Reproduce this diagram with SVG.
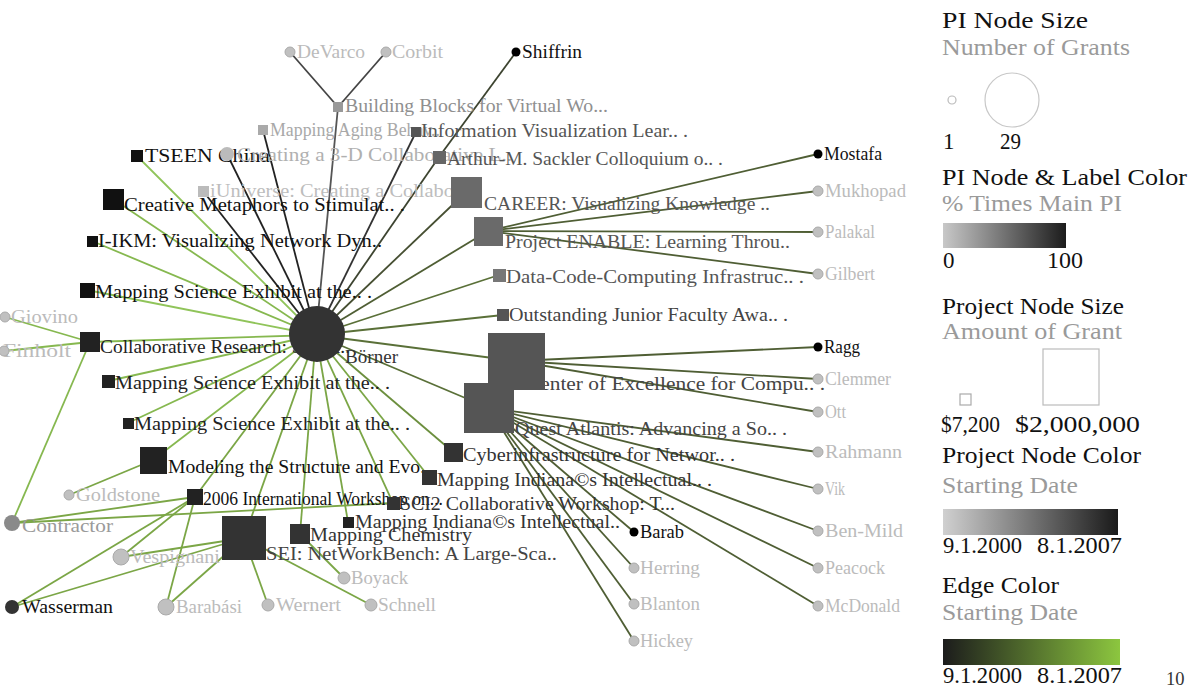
<svg xmlns="http://www.w3.org/2000/svg" width="1194" height="689" viewBox="0 0 1194 689">
<defs>
<linearGradient id="gPI" x1="0" x2="1" y1="0" y2="0"><stop offset="0" stop-color="#c8c8c8"/><stop offset="1" stop-color="#1c1c1c"/></linearGradient>
<linearGradient id="gPR" x1="0" x2="1" y1="0" y2="0"><stop offset="0" stop-color="#d0d0d0"/><stop offset="1" stop-color="#1a1a1a"/></linearGradient>
<linearGradient id="gED" x1="0" x2="1" y1="0" y2="0"><stop offset="0" stop-color="#1c1c1c"/><stop offset="1" stop-color="#8cc63f"/></linearGradient>
</defs>
<style>
text{font-family:"Liberation Serif","Times New Roman",serif;font-size:18.5px}
.lg{font-size:23px;fill:#111}
.ls{font-size:23px;fill:#9a9a9a}
.n{fill:#bbb}
.w{fill:#111}
.d{fill:#333}
.m{fill:#555}
.l{fill:#a8a8a8}
.pl{fill:#c0c0c0;stroke:#aaa;stroke-width:1}
.pk{fill:#000}
#edges line{stroke-width:1.8;fill:none}
.k1{stroke:#222}.k2{stroke:#333}.k4{stroke:#444}.k5{stroke:#555}
.o1{stroke:#3d4430}.o2{stroke:#464f32}.o3{stroke:#4f5e34}.o4{stroke:#5a7038}
.g3{stroke:#6c8f3e}.g4{stroke:#7ba646}.g5{stroke:#86b84f}.g6{stroke:#90c45a}
</style>
<rect width="1194" height="689" fill="#fff"/>
<g id="edges">
<line x1="290" y1="52" x2="338" y2="107" class="k4"/>
<line x1="386" y1="52" x2="338" y2="107" class="k4"/>
<line x1="338" y1="107" x2="316" y2="335" class="k5"/>
<line x1="263" y1="130" x2="316" y2="335" class="k1"/>
<line x1="416" y1="132" x2="316" y2="335" class="k2"/>
<line x1="227" y1="154" x2="316" y2="335" class="k1"/>
<line x1="203" y1="191" x2="316" y2="335" class="k1"/>
<line x1="516" y1="52" x2="439" y2="157" class="o1"/>
<line x1="439" y1="157" x2="316" y2="335" class="o1"/>
<line x1="466" y1="192" x2="316" y2="335" class="o2"/>
<line x1="488" y1="231" x2="316" y2="335" class="o3"/>
<line x1="488" y1="231" x2="818" y2="154" class="o3"/>
<line x1="488" y1="231" x2="818" y2="191" class="o3"/>
<line x1="488" y1="231" x2="818" y2="232" class="o3"/>
<line x1="488" y1="231" x2="818" y2="274" class="o3"/>
<line x1="499" y1="275" x2="316" y2="335" class="o4"/>
<line x1="503" y1="315" x2="316" y2="335" class="o4"/>
<line x1="516" y1="361" x2="316" y2="335" class="o4"/>
<line x1="516" y1="361" x2="818" y2="347" class="o3"/>
<line x1="516" y1="361" x2="818" y2="379" class="o3"/>
<line x1="516" y1="361" x2="818" y2="412" class="o3"/>
<line x1="489" y1="408" x2="316" y2="335" class="o4"/>
<line x1="489" y1="408" x2="818" y2="452" class="o3"/>
<line x1="489" y1="408" x2="818" y2="489" class="o3"/>
<line x1="489" y1="408" x2="818" y2="531" class="o3"/>
<line x1="489" y1="408" x2="818" y2="568" class="o3"/>
<line x1="489" y1="408" x2="818" y2="606" class="o3"/>
<line x1="489" y1="408" x2="634" y2="532" class="o3"/>
<line x1="489" y1="408" x2="634" y2="568" class="o3"/>
<line x1="489" y1="408" x2="634" y2="604" class="o3"/>
<line x1="489" y1="408" x2="634" y2="641" class="o3"/>
<line x1="453" y1="452" x2="316" y2="335" class="g3"/>
<line x1="429" y1="477" x2="316" y2="335" class="g4"/>
<line x1="393" y1="503" x2="316" y2="335" class="g4"/>
<line x1="348" y1="522" x2="316" y2="335" class="g4"/>
<line x1="300" y1="534" x2="316" y2="335" class="g4"/>
<line x1="244" y1="538" x2="316" y2="335" class="g4"/>
<line x1="195" y1="497" x2="316" y2="335" class="g4"/>
<line x1="153" y1="460" x2="316" y2="335" class="g5"/>
<line x1="128" y1="423" x2="316" y2="335" class="g5"/>
<line x1="108" y1="381" x2="316" y2="335" class="g5"/>
<line x1="90" y1="342" x2="316" y2="335" class="g5"/>
<line x1="87" y1="290" x2="316" y2="335" class="g6"/>
<line x1="92" y1="241" x2="316" y2="335" class="g5"/>
<line x1="113" y1="199" x2="316" y2="335" class="g5"/>
<line x1="137" y1="156" x2="316" y2="335" class="g6"/>
<line x1="90" y1="342" x2="5" y2="317" class="g5"/>
<line x1="90" y1="342" x2="4" y2="351" class="g5"/>
<line x1="90" y1="342" x2="12" y2="523" class="g5"/>
<line x1="153" y1="460" x2="69" y2="495" class="g4"/>
<line x1="195" y1="497" x2="12" y2="523" class="g4"/>
<line x1="195" y1="497" x2="121" y2="557" class="g4"/>
<line x1="195" y1="497" x2="12" y2="607" class="g4"/>
<line x1="195" y1="497" x2="166" y2="607" class="g4"/>
<line x1="393" y1="503" x2="12" y2="523" class="g4"/>
<line x1="244" y1="538" x2="121" y2="557" class="g4"/>
<line x1="244" y1="538" x2="12" y2="607" class="g4"/>
<line x1="244" y1="538" x2="166" y2="607" class="g4"/>
<line x1="244" y1="538" x2="268" y2="605" class="g4"/>
<line x1="244" y1="538" x2="371" y2="605" class="g4"/>
<line x1="300" y1="534" x2="344" y2="578" class="g4"/>
</g>
<g id="pi-devarco"><circle cx="290" cy="52" r="5" class="pl"/><text x="297" y="58" class="n" textLength="68" lengthAdjust="spacingAndGlyphs">DeVarco</text></g>
<g id="pi-corbit"><circle cx="386" cy="52" r="5" class="pl"/><text x="392" y="58" class="n" textLength="51" lengthAdjust="spacingAndGlyphs">Corbit</text></g>
<g id="pi-shiffrin"><circle cx="516" cy="52" r="4.5" class="pk"/><text x="522" y="58" class="w" textLength="60" lengthAdjust="spacingAndGlyphs">Shiffrin</text></g>
<g id="pi-mostafa"><circle cx="818" cy="154" r="4.5" class="pk"/><text x="824" y="160" class="w" textLength="58" lengthAdjust="spacingAndGlyphs">Mostafa</text></g>
<g id="pi-mukhopad"><circle cx="818" cy="191" r="5" class="pl"/><text x="825" y="197" class="n" textLength="81" lengthAdjust="spacingAndGlyphs">Mukhopad</text></g>
<g id="pi-palakal"><circle cx="818" cy="232" r="5" class="pl"/><text x="825" y="238" class="n" textLength="50" lengthAdjust="spacingAndGlyphs">Palakal</text></g>
<g id="pi-gilbert"><circle cx="818" cy="274" r="5" class="pl"/><text x="825" y="280" class="n" textLength="50" lengthAdjust="spacingAndGlyphs">Gilbert</text></g>
<g id="pi-ragg"><circle cx="818" cy="347" r="4.5" class="pk"/><text x="824" y="353" class="w" textLength="36" lengthAdjust="spacingAndGlyphs">Ragg</text></g>
<g id="pi-clemmer"><circle cx="818" cy="379" r="5" class="pl"/><text x="825" y="385" class="n" textLength="66" lengthAdjust="spacingAndGlyphs">Clemmer</text></g>
<g id="pi-ott"><circle cx="818" cy="412" r="5" class="pl"/><text x="825" y="418" class="n" textLength="21" lengthAdjust="spacingAndGlyphs">Ott</text></g>
<g id="pi-rahmann"><circle cx="818" cy="452" r="5" class="pl"/><text x="825" y="458" class="n" textLength="77" lengthAdjust="spacingAndGlyphs">Rahmann</text></g>
<g id="pi-vik"><circle cx="818" cy="489" r="5" class="pl"/><text x="825" y="495" class="n" textLength="20" lengthAdjust="spacingAndGlyphs">Vik</text></g>
<g id="pi-benmild"><circle cx="818" cy="531" r="5" class="pl"/><text x="825" y="537" class="n" textLength="78" lengthAdjust="spacingAndGlyphs">Ben-Mild</text></g>
<g id="pi-peacock"><circle cx="818" cy="568" r="5" class="pl"/><text x="825" y="574" class="n" textLength="60" lengthAdjust="spacingAndGlyphs">Peacock</text></g>
<g id="pi-mcdonald"><circle cx="818" cy="606" r="5" class="pl"/><text x="825" y="612" class="n" textLength="75" lengthAdjust="spacingAndGlyphs">McDonald</text></g>
<g id="pi-barab"><circle cx="634" cy="532" r="4.5" class="pk"/><text x="640" y="538" class="w" textLength="44" lengthAdjust="spacingAndGlyphs">Barab</text></g>
<g id="pi-herring"><circle cx="634" cy="568" r="5" class="pl"/><text x="640" y="574" class="n" textLength="60" lengthAdjust="spacingAndGlyphs">Herring</text></g>
<g id="pi-blanton"><circle cx="634" cy="604" r="5" class="pl"/><text x="640" y="610" class="n" textLength="60" lengthAdjust="spacingAndGlyphs">Blanton</text></g>
<g id="pi-hickey"><circle cx="634" cy="641" r="5" class="pl"/><text x="640" y="647" class="n" textLength="53" lengthAdjust="spacingAndGlyphs">Hickey</text></g>
<g id="pi-giovino"><circle cx="5" cy="317" r="5" class="pl"/><text x="11" y="323" class="n" textLength="67" lengthAdjust="spacingAndGlyphs">Giovino</text></g>
<g id="pi-finholt"><text x="3" y="357" class="n" textLength="68" lengthAdjust="spacingAndGlyphs">Finholt</text><circle cx="4" cy="351" r="5" class="pl"/></g>
<g id="pi-contractor"><circle cx="12" cy="523" r="8" fill="#8a8a8a"/><text x="22" y="532" fill="#9a9a9a" textLength="91" lengthAdjust="spacingAndGlyphs">Contractor</text></g>
<g id="pi-goldstone"><circle cx="69" cy="495" r="5" class="pl"/><text x="76" y="501" class="n" textLength="84" lengthAdjust="spacingAndGlyphs">Goldstone</text></g>
<g id="pi-vespignani"><text x="130" y="563" class="n" textLength="90" lengthAdjust="spacingAndGlyphs">Vespignani</text><circle cx="121" cy="557" r="8" class="pl"/></g>
<g id="pi-wasserman"><circle cx="12" cy="607" r="7" fill="#333"/><text x="22" y="613" class="w" textLength="91" lengthAdjust="spacingAndGlyphs">Wasserman</text></g>
<g id="pi-barabasi"><circle cx="166" cy="607" r="8" class="pl"/><text x="176" y="613" class="n" textLength="66" lengthAdjust="spacingAndGlyphs">Barabási</text></g>
<g id="pi-wernert"><circle cx="268" cy="605" r="6" class="pl"/><text x="276" y="611" class="n" textLength="65" lengthAdjust="spacingAndGlyphs">Wernert</text></g>
<g id="pi-schnell"><circle cx="371" cy="605" r="6" class="pl"/><text x="378" y="611" class="n" textLength="58" lengthAdjust="spacingAndGlyphs">Schnell</text></g>
<g id="pi-boyack"><circle cx="344" cy="578" r="6" class="pl"/><text x="351" y="584" class="n" textLength="57" lengthAdjust="spacingAndGlyphs">Boyack</text></g>

<g id="p-building"><rect x="333" y="102" width="10" height="10" fill="#999"/><text x="345" y="112" fill="#8f8f8f" textLength="263" lengthAdjust="spacingAndGlyphs">Building Blocks for Virtual Wo...</text></g>
<g id="p-aging"><rect x="258" y="125" width="10" height="10" fill="#aaa"/><text x="270" y="136" class="l" textLength="170" lengthAdjust="spacingAndGlyphs">Mapping Aging Behav..</text></g>
<g id="p-infovis"><rect x="411" y="127" width="10" height="10" fill="#555"/><text x="421" y="137" class="m" textLength="267" lengthAdjust="spacingAndGlyphs">Information Visualization Lear.. .</text></g>
<g id="p-tseen"><rect x="131" y="150" width="12" height="12" fill="#111"/><text x="145" y="162" class="w" textLength="125" lengthAdjust="spacingAndGlyphs">TSEEN China</text></g>
<g id="p-3d"><circle cx="227" cy="154" r="7" fill="#bbb"/><text x="237" y="161" fill="#b0b0b0" textLength="275" lengthAdjust="spacingAndGlyphs">Creating a 3-D Collaborative L..</text></g>
<g id="p-arthur"><rect x="433" y="151" width="13" height="13" fill="#666"/><text x="447" y="165" class="m" textLength="276" lengthAdjust="spacingAndGlyphs">Arthur-M. Sackler Colloquium o.. .</text></g>
<g id="p-iuniverse"><rect x="198" y="186" width="11" height="11" fill="#bbb"/><text x="210" y="197" fill="#bdbdbd" textLength="270" lengthAdjust="spacingAndGlyphs">iUniverse: Creating a Collabora..</text></g>
<g id="p-career"><rect x="451" y="177" width="31" height="31" fill="#6a6a6a"/><text x="484" y="210" class="m" textLength="286" lengthAdjust="spacingAndGlyphs">CAREER: Visualizing Knowledge ..</text></g>
<g id="p-creative"><rect x="103" y="189" width="21" height="21" fill="#111"/><text x="124" y="211" class="w" textLength="281" lengthAdjust="spacingAndGlyphs">Creative Metaphors to Stimulat.. .</text></g>
<g id="p-enable"><rect x="474" y="217" width="29" height="29" fill="#6a6a6a"/><text x="505" y="248" class="m" textLength="285" lengthAdjust="spacingAndGlyphs">Project ENABLE: Learning Throu..</text></g>
<g id="p-iikm"><rect x="87" y="236" width="11" height="11" fill="#111"/><text x="98" y="247" class="w" textLength="284" lengthAdjust="spacingAndGlyphs">I-IKM: Visualizing Network Dyn..</text></g>
<g id="p-datacode"><rect x="493" y="269" width="13" height="13" fill="#777"/><text x="506" y="283" class="m" textLength="298" lengthAdjust="spacingAndGlyphs">Data-Code-Computing Infrastruc.. .</text></g>
<g id="p-mse1"><rect x="80" y="283" width="15" height="15" fill="#111"/><text x="95" y="298" class="w" textLength="277" lengthAdjust="spacingAndGlyphs">Mapping Science Exhibit at the.. .</text></g>
<g id="p-outstanding"><rect x="497" y="309" width="12" height="12" fill="#555"/><text x="509" y="321" fill="#444" textLength="279" lengthAdjust="spacingAndGlyphs">Outstanding Junior Faculty Awa.. .</text></g>
<g id="p-collab"><rect x="80" y="332" width="20" height="20" fill="#222"/><text x="100" y="353" fill="#222" textLength="250" lengthAdjust="spacingAndGlyphs">Collaborative Research: Social..</text></g>
<g id="p-center"><text x="526" y="390" fill="#444" textLength="299" lengthAdjust="spacingAndGlyphs">Center of Excellence for Compu.. .</text><rect x="488" y="333" width="57" height="57" fill="#555"/></g>
<g id="p-quest"><rect x="464" y="383" width="50" height="50" fill="#555"/><text x="515" y="435" fill="#444" textLength="272" lengthAdjust="spacingAndGlyphs">Quest Atlantis: Advancing a So.. .</text></g>
<g id="p-mse2"><rect x="102" y="375" width="13" height="13" fill="#222"/><text x="115" y="389" fill="#222" textLength="275" lengthAdjust="spacingAndGlyphs">Mapping Science Exhibit at the.. .</text></g>
<g id="p-mse3"><rect x="123" y="418" width="11" height="11" fill="#222"/><text x="134" y="430" fill="#222" textLength="276" lengthAdjust="spacingAndGlyphs">Mapping Science Exhibit at the.. .</text></g>
<g id="p-modeling"><rect x="140" y="447" width="27" height="27" fill="#222"/><text x="168" y="473" class="w" textLength="262" lengthAdjust="spacingAndGlyphs">Modeling the Structure and Evo..</text></g>
<g id="p-cyber"><rect x="444" y="443" width="19" height="19" fill="#333"/><text x="463" y="461" class="d" textLength="272" lengthAdjust="spacingAndGlyphs">Cyberinfrastructure for Networ.. .</text></g>
<g id="p-indiana1"><rect x="422" y="470" width="15" height="15" fill="#333"/><text x="437" y="486" class="d" textLength="275" lengthAdjust="spacingAndGlyphs">Mapping Indiana©s Intellectual.. .</text></g>
<g id="p-2006"><rect x="187" y="489" width="16" height="16" fill="#222"/><text x="203" y="505" class="w" textLength="240" lengthAdjust="spacingAndGlyphs">2006 International Workshop on...</text></g>
<g id="p-sci2"><rect x="387" y="497" width="13" height="13" fill="#333"/><text x="400" y="510" class="d" textLength="275" lengthAdjust="spacingAndGlyphs">SCI2 Collaborative Workshop: T...</text></g>
<g id="p-indiana2"><rect x="343" y="517" width="11" height="11" fill="#222"/><text x="355" y="528" class="d" textLength="265" lengthAdjust="spacingAndGlyphs">Mapping Indiana©s Intellectual..</text></g>
<g id="p-chem"><rect x="290" y="524" width="20" height="20" fill="#333"/><text x="310" y="541" class="d" textLength="162" lengthAdjust="spacingAndGlyphs">Mapping Chemistry</text></g>
<g id="p-sei"><rect x="222" y="516" width="44" height="44" fill="#333"/><text x="266" y="560" fill="#444" textLength="291" lengthAdjust="spacingAndGlyphs">SEI: NetWorkBench: A Large-Sca..</text></g>
<g id="pi-borner"><circle cx="317" cy="334" r="28" fill="#333"/><text x="345" y="363" fill="#333" textLength="53" lengthAdjust="spacingAndGlyphs">Börner</text></g>

<g id="legend">
<text x="942" y="28" class="lg" textLength="146" lengthAdjust="spacingAndGlyphs">PI Node Size</text>
<text x="942" y="55" class="ls" textLength="188" lengthAdjust="spacingAndGlyphs">Number of Grants</text>
<circle cx="952" cy="100" r="4" fill="none" stroke="#bbb" stroke-width="1.2"/>
<circle cx="1012" cy="100" r="27" fill="none" stroke="#c8c8c8" stroke-width="1.2"/>
<text x="943" y="149" class="lg">1</text>
<text x="1000" y="149" class="lg" textLength="21" lengthAdjust="spacingAndGlyphs">29</text>
<text x="942" y="185" class="lg" textLength="245" lengthAdjust="spacingAndGlyphs">PI Node &amp; Label Color</text>
<text x="942" y="211" class="ls" textLength="180" lengthAdjust="spacingAndGlyphs">% Times Main PI</text>
<rect x="943" y="223" width="123" height="25" fill="url(#gPI)"/>
<text x="943" y="268" class="lg">0</text>
<text x="1047" y="268" class="lg" textLength="36" lengthAdjust="spacingAndGlyphs">100</text>
<text x="942" y="314" class="lg" textLength="182" lengthAdjust="spacingAndGlyphs">Project Node Size</text>
<text x="942" y="339" class="ls" textLength="180" lengthAdjust="spacingAndGlyphs">Amount of Grant</text>
<rect x="960" y="394" width="11" height="11" fill="none" stroke="#aaa" stroke-width="1.2"/>
<rect x="1043" y="349" width="56" height="56" fill="none" stroke="#bbb" stroke-width="1.2"/>
<text x="941" y="432" class="lg" textLength="59" lengthAdjust="spacingAndGlyphs">$7,200</text>
<text x="1015" y="432" class="lg" textLength="125" lengthAdjust="spacingAndGlyphs">$2,000,000</text>
<text x="942" y="463" class="lg" textLength="199" lengthAdjust="spacingAndGlyphs">Project Node Color</text>
<text x="942" y="493" class="ls" textLength="136" lengthAdjust="spacingAndGlyphs">Starting Date</text>
<rect x="943" y="509" width="175" height="26" fill="url(#gPR)"/>
<text x="943" y="553" class="lg" textLength="79" lengthAdjust="spacingAndGlyphs">9.1.2000</text>
<text x="1037" y="553" class="lg" textLength="85" lengthAdjust="spacingAndGlyphs">8.1.2007</text>
<text x="942" y="593" class="lg" textLength="117" lengthAdjust="spacingAndGlyphs">Edge Color</text>
<text x="942" y="620" class="ls" textLength="136" lengthAdjust="spacingAndGlyphs">Starting Date</text>
<rect x="943" y="639" width="177" height="26" fill="url(#gED)"/>
<text x="943" y="683" class="lg" textLength="79" lengthAdjust="spacingAndGlyphs">9.1.2000</text>
<text x="1037" y="683" class="lg" textLength="85" lengthAdjust="spacingAndGlyphs">8.1.2007</text>
<text x="1166" y="685" fill="#333" font-size="13">10</text>
</g>
</svg>
